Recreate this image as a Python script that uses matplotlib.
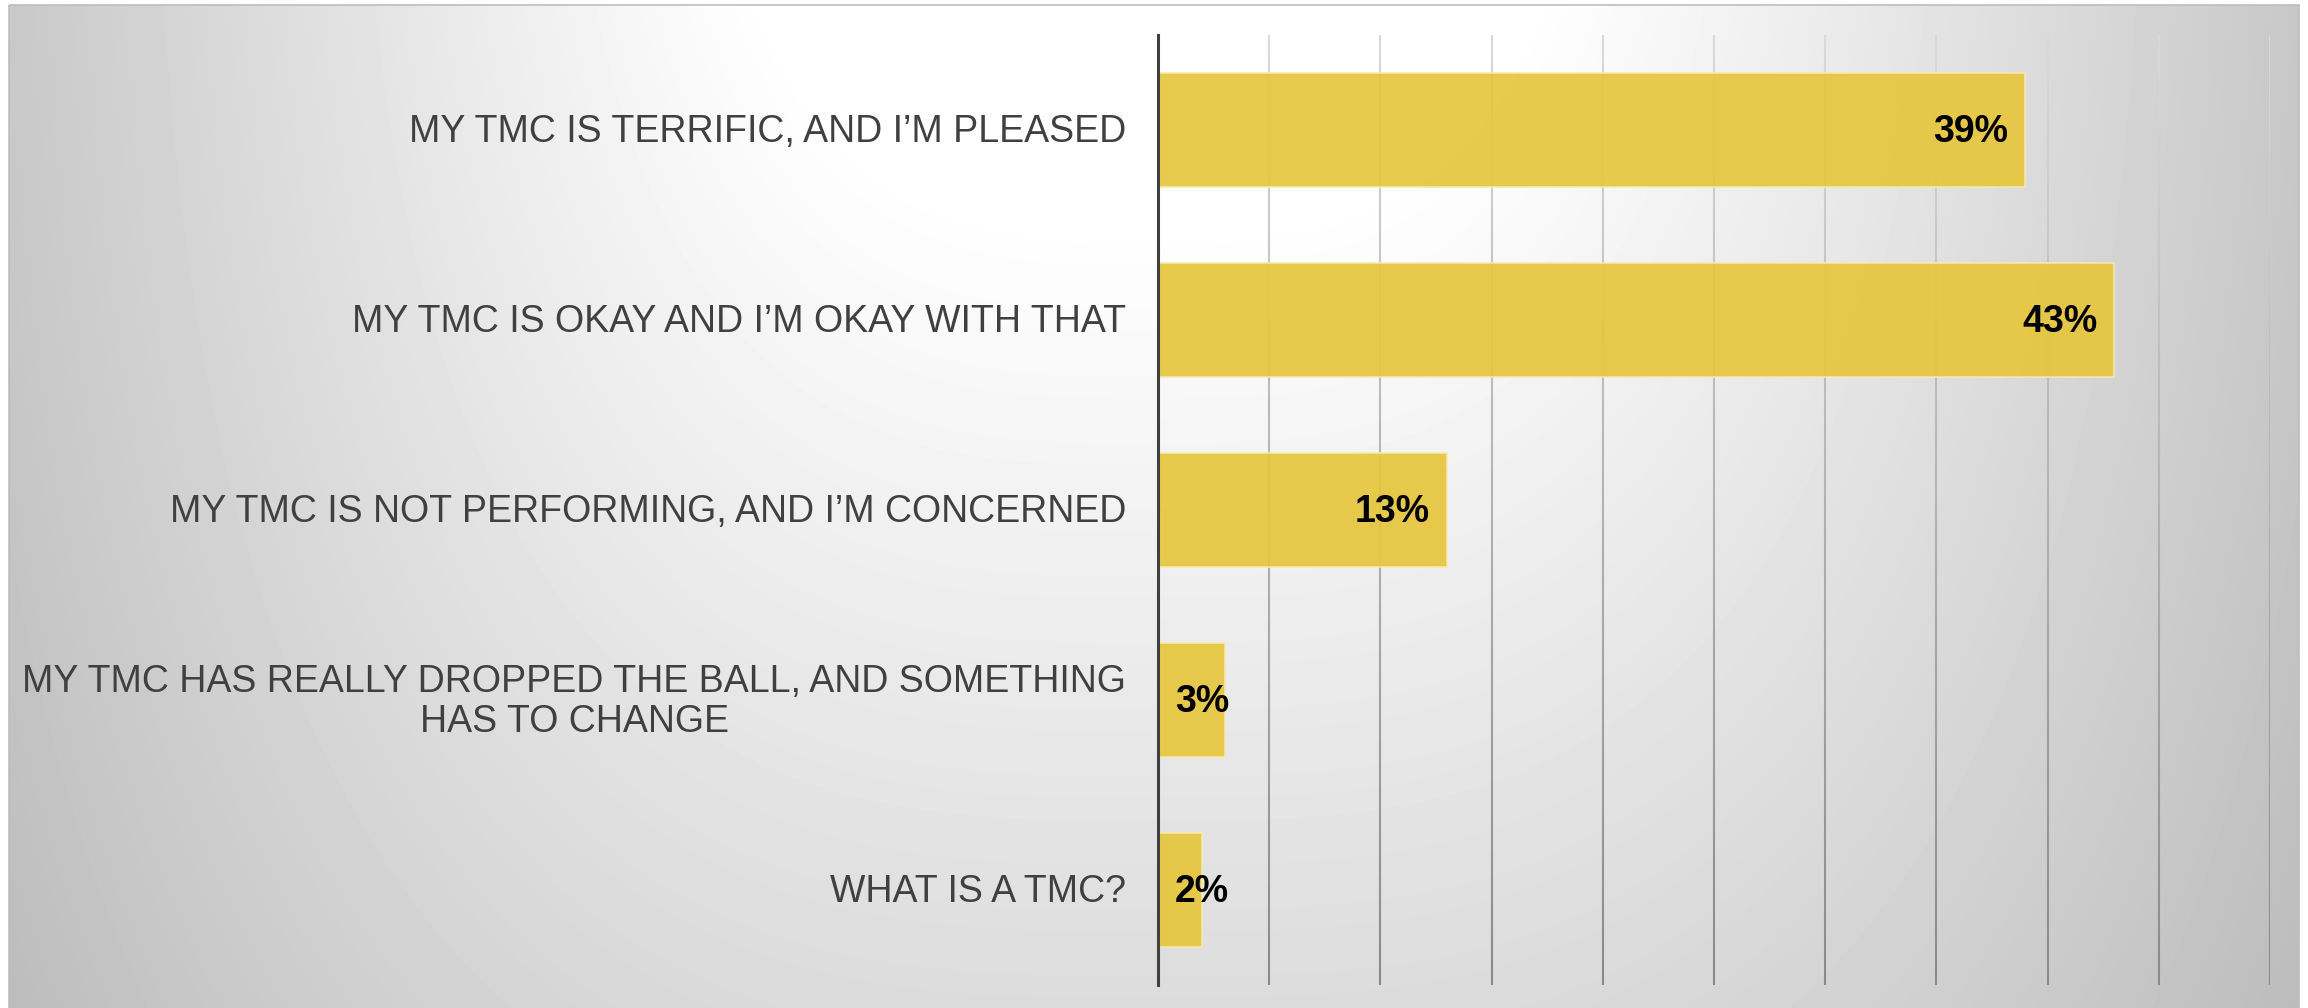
import numpy as np
import matplotlib
matplotlib.use('Agg')
import matplotlib.pyplot as plt
from matplotlib.collections import LineCollection
from matplotlib.colors import LinearSegmentedColormap
from matplotlib.patches import Rectangle

# survey answers, top to bottom
categories = [
    'MY TMC IS TERRIFIC, AND I\u2019M PLEASED',
    'MY TMC IS OKAY AND I\u2019M OKAY WITH THAT',
    'MY TMC IS NOT PERFORMING, AND I\u2019M CONCERNED',
    'MY TMC HAS REALLY DROPPED THE BALL, AND SOMETHING\nHAS TO CHANGE',
    'WHAT IS A TMC?',
]
values = [39, 43, 13, 3, 2]
grid_ticks = [5, 10, 15, 20, 25, 30, 35, 40, 45, 50]

W, H = 2308, 1008
fnt = ['Liberation Sans', 'DejaVu Sans']

fig = plt.figure(figsize=(W / 100, H / 100), dpi=100)

# grey slide background, bright near the top middle
bg = fig.add_axes([0, 0, 1, 1])
bg.set_xlim(0, W)
bg.set_ylim(H, 0)
bg.axis('off')
yy, xx = np.mgrid[0:H, 0:W] + 0.5
rx = np.abs(xx - 1150) / 1180
ry = np.abs(yy + 558) / 2050
r = (rx ** 3 + ry ** 3) ** (1 / 3)
shade = np.clip(255 - 92 * np.clip(r - 0.38, 0, None), 0, 255)
panel = (xx >= 9) & (xx <= 2299) & (yy >= 5)
img = np.where(panel, shade, 255) / 255
bg.imshow(img, cmap='gray', vmin=0, vmax=1, extent=(0, W, H, 0),
          interpolation='nearest', aspect='auto')
bg.add_patch(Rectangle((9, 5), 2290, H, fill=False, edgecolor='#bdbdbd', lw=1.2))

ax = fig.add_axes([1158 / W, 23 / H, (2270 - 1158) / W, (985 - 35) / H])
ax.patch.set_visible(False)
ax.set_xlim(0, 50)
ax.set_ylim(4.5, -0.5)

# vertical gridlines fading from light at the top to darker at the bottom
grid_cmap = LinearSegmentedColormap.from_list('grid', ['#d9d9d9', '#8a8a8a'])
ys = np.linspace(-0.5, 4.5, 120)
for xt in grid_ticks:
    segs = [[(xt, ys[k]), (xt, ys[k + 1])] for k in range(len(ys) - 1)]
    lc = LineCollection(segs, colors=grid_cmap(np.linspace(0, 1, len(segs))),
                        linewidths=1.5, zorder=1)
    ax.add_collection(lc)

pos = np.arange(len(values))
ax.barh(pos, values, height=0.6, color='#E6C63D', alpha=0.92,
        edgecolor='#f6eab0', linewidth=1.2, zorder=2)

for s in ['top', 'right', 'bottom']:
    ax.spines[s].set_visible(False)
ax.spines['left'].set_color('#404040')
ax.spines['left'].set_linewidth(2.2)
ax.spines['left'].set_zorder(3)
ax.set_xticks([])
ax.set_yticks([])

# category labels, wrapped lines centred on each other
for i, label in enumerate(categories):
    ax.annotate(label, (0, i), xytext=(-32, -2), textcoords='offset pixels',
                ha='right', va='center', multialignment='center',
                linespacing=1.12, fontsize=27, color='#404040', family=fnt,
                annotation_clip=False)

# value labels, inside the bar end when there is room
for i, v in enumerate(values):
    kw = dict(textcoords='offset pixels', va='center', fontsize=27,
              fontweight='bold', color='black', family=fnt, zorder=4)
    if v >= 5:
        ax.annotate(f'{v}%', (v, i), xytext=(-17, -2), ha='right', **kw)
    else:
        ax.annotate(f'{v}%', (0, i), xytext=(17, -2), ha='left', **kw)

fig.savefig('out.png', dpi=100)
